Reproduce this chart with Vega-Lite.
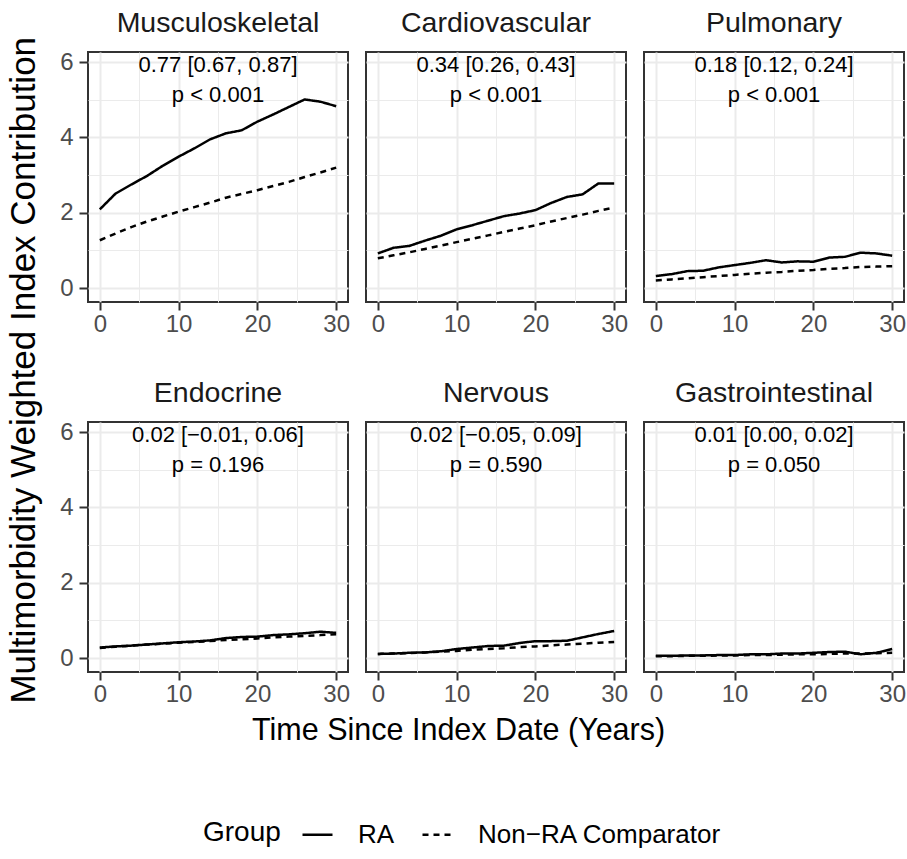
{
  "$schema": "https://vega.github.io/schema/vega-lite/v6.json",
  "background": "white",
  "padding": {"left": 6, "top": 7, "right": 2, "bottom": 4},
  "data": {"values": [
    {"panel":"Musculoskeletal","group":"RA","year":0,"value":2.09},{"panel":"Musculoskeletal","group":"RA","year":2,"value":2.51},{"panel":"Musculoskeletal","group":"RA","year":4,"value":2.75},{"panel":"Musculoskeletal","group":"RA","year":6,"value":2.98},{"panel":"Musculoskeletal","group":"RA","year":8,"value":3.25},{"panel":"Musculoskeletal","group":"RA","year":10,"value":3.49},{"panel":"Musculoskeletal","group":"RA","year":12,"value":3.71},{"panel":"Musculoskeletal","group":"RA","year":14,"value":3.95},{"panel":"Musculoskeletal","group":"RA","year":16,"value":4.11},{"panel":"Musculoskeletal","group":"RA","year":18,"value":4.19},{"panel":"Musculoskeletal","group":"RA","year":20,"value":4.42},{"panel":"Musculoskeletal","group":"RA","year":22,"value":4.61},{"panel":"Musculoskeletal","group":"RA","year":24,"value":4.81},{"panel":"Musculoskeletal","group":"RA","year":26,"value":5.01},{"panel":"Musculoskeletal","group":"RA","year":28,"value":4.95},{"panel":"Musculoskeletal","group":"RA","year":30,"value":4.83},
    {"panel":"Musculoskeletal","group":"Non−RA Comparator","year":0,"value":1.27},{"panel":"Musculoskeletal","group":"Non−RA Comparator","year":2,"value":1.45},{"panel":"Musculoskeletal","group":"Non−RA Comparator","year":4,"value":1.62},{"panel":"Musculoskeletal","group":"Non−RA Comparator","year":6,"value":1.77},{"panel":"Musculoskeletal","group":"Non−RA Comparator","year":8,"value":1.90},{"panel":"Musculoskeletal","group":"Non−RA Comparator","year":10,"value":2.03},{"panel":"Musculoskeletal","group":"Non−RA Comparator","year":12,"value":2.15},{"panel":"Musculoskeletal","group":"Non−RA Comparator","year":14,"value":2.27},{"panel":"Musculoskeletal","group":"Non−RA Comparator","year":16,"value":2.40},{"panel":"Musculoskeletal","group":"Non−RA Comparator","year":18,"value":2.50},{"panel":"Musculoskeletal","group":"Non−RA Comparator","year":20,"value":2.60},{"panel":"Musculoskeletal","group":"Non−RA Comparator","year":22,"value":2.71},{"panel":"Musculoskeletal","group":"Non−RA Comparator","year":24,"value":2.82},{"panel":"Musculoskeletal","group":"Non−RA Comparator","year":26,"value":2.95},{"panel":"Musculoskeletal","group":"Non−RA Comparator","year":28,"value":3.07},{"panel":"Musculoskeletal","group":"Non−RA Comparator","year":30,"value":3.20},
    {"panel":"Cardiovascular","group":"RA","year":0,"value":0.92},{"panel":"Cardiovascular","group":"RA","year":2,"value":1.07},{"panel":"Cardiovascular","group":"RA","year":4,"value":1.12},{"panel":"Cardiovascular","group":"RA","year":6,"value":1.26},{"panel":"Cardiovascular","group":"RA","year":8,"value":1.39},{"panel":"Cardiovascular","group":"RA","year":10,"value":1.56},{"panel":"Cardiovascular","group":"RA","year":12,"value":1.67},{"panel":"Cardiovascular","group":"RA","year":14,"value":1.79},{"panel":"Cardiovascular","group":"RA","year":16,"value":1.91},{"panel":"Cardiovascular","group":"RA","year":18,"value":1.98},{"panel":"Cardiovascular","group":"RA","year":20,"value":2.07},{"panel":"Cardiovascular","group":"RA","year":22,"value":2.26},{"panel":"Cardiovascular","group":"RA","year":24,"value":2.42},{"panel":"Cardiovascular","group":"RA","year":26,"value":2.49},{"panel":"Cardiovascular","group":"RA","year":28,"value":2.78},{"panel":"Cardiovascular","group":"RA","year":30,"value":2.78},
    {"panel":"Cardiovascular","group":"Non−RA Comparator","year":0,"value":0.79},{"panel":"Cardiovascular","group":"Non−RA Comparator","year":2,"value":0.87},{"panel":"Cardiovascular","group":"Non−RA Comparator","year":4,"value":0.95},{"panel":"Cardiovascular","group":"Non−RA Comparator","year":6,"value":1.04},{"panel":"Cardiovascular","group":"Non−RA Comparator","year":8,"value":1.13},{"panel":"Cardiovascular","group":"Non−RA Comparator","year":10,"value":1.22},{"panel":"Cardiovascular","group":"Non−RA Comparator","year":12,"value":1.31},{"panel":"Cardiovascular","group":"Non−RA Comparator","year":14,"value":1.40},{"panel":"Cardiovascular","group":"Non−RA Comparator","year":16,"value":1.49},{"panel":"Cardiovascular","group":"Non−RA Comparator","year":18,"value":1.58},{"panel":"Cardiovascular","group":"Non−RA Comparator","year":20,"value":1.67},{"panel":"Cardiovascular","group":"Non−RA Comparator","year":22,"value":1.77},{"panel":"Cardiovascular","group":"Non−RA Comparator","year":24,"value":1.86},{"panel":"Cardiovascular","group":"Non−RA Comparator","year":26,"value":1.95},{"panel":"Cardiovascular","group":"Non−RA Comparator","year":28,"value":2.05},{"panel":"Cardiovascular","group":"Non−RA Comparator","year":30,"value":2.14},
    {"panel":"Pulmonary","group":"RA","year":0,"value":0.32},{"panel":"Pulmonary","group":"RA","year":2,"value":0.37},{"panel":"Pulmonary","group":"RA","year":4,"value":0.45},{"panel":"Pulmonary","group":"RA","year":6,"value":0.46},{"panel":"Pulmonary","group":"RA","year":8,"value":0.55},{"panel":"Pulmonary","group":"RA","year":10,"value":0.61},{"panel":"Pulmonary","group":"RA","year":12,"value":0.67},{"panel":"Pulmonary","group":"RA","year":14,"value":0.74},{"panel":"Pulmonary","group":"RA","year":16,"value":0.68},{"panel":"Pulmonary","group":"RA","year":18,"value":0.71},{"panel":"Pulmonary","group":"RA","year":20,"value":0.70},{"panel":"Pulmonary","group":"RA","year":22,"value":0.81},{"panel":"Pulmonary","group":"RA","year":24,"value":0.83},{"panel":"Pulmonary","group":"RA","year":26,"value":0.94},{"panel":"Pulmonary","group":"RA","year":28,"value":0.92},{"panel":"Pulmonary","group":"RA","year":30,"value":0.86},
    {"panel":"Pulmonary","group":"Non−RA Comparator","year":0,"value":0.20},{"panel":"Pulmonary","group":"Non−RA Comparator","year":2,"value":0.23},{"panel":"Pulmonary","group":"Non−RA Comparator","year":4,"value":0.26},{"panel":"Pulmonary","group":"Non−RA Comparator","year":6,"value":0.29},{"panel":"Pulmonary","group":"Non−RA Comparator","year":8,"value":0.32},{"panel":"Pulmonary","group":"Non−RA Comparator","year":10,"value":0.35},{"panel":"Pulmonary","group":"Non−RA Comparator","year":12,"value":0.38},{"panel":"Pulmonary","group":"Non−RA Comparator","year":14,"value":0.41},{"panel":"Pulmonary","group":"Non−RA Comparator","year":16,"value":0.43},{"panel":"Pulmonary","group":"Non−RA Comparator","year":18,"value":0.46},{"panel":"Pulmonary","group":"Non−RA Comparator","year":20,"value":0.48},{"panel":"Pulmonary","group":"Non−RA Comparator","year":22,"value":0.51},{"panel":"Pulmonary","group":"Non−RA Comparator","year":24,"value":0.53},{"panel":"Pulmonary","group":"Non−RA Comparator","year":26,"value":0.56},{"panel":"Pulmonary","group":"Non−RA Comparator","year":28,"value":0.57},{"panel":"Pulmonary","group":"Non−RA Comparator","year":30,"value":0.58},
    {"panel":"Endocrine","group":"RA","year":0,"value":0.28},{"panel":"Endocrine","group":"RA","year":2,"value":0.31},{"panel":"Endocrine","group":"RA","year":4,"value":0.33},{"panel":"Endocrine","group":"RA","year":6,"value":0.36},{"panel":"Endocrine","group":"RA","year":8,"value":0.39},{"panel":"Endocrine","group":"RA","year":10,"value":0.42},{"panel":"Endocrine","group":"RA","year":12,"value":0.44},{"panel":"Endocrine","group":"RA","year":14,"value":0.47},{"panel":"Endocrine","group":"RA","year":16,"value":0.53},{"panel":"Endocrine","group":"RA","year":18,"value":0.56},{"panel":"Endocrine","group":"RA","year":20,"value":0.57},{"panel":"Endocrine","group":"RA","year":22,"value":0.61},{"panel":"Endocrine","group":"RA","year":24,"value":0.63},{"panel":"Endocrine","group":"RA","year":26,"value":0.66},{"panel":"Endocrine","group":"RA","year":28,"value":0.70},{"panel":"Endocrine","group":"RA","year":30,"value":0.67},
    {"panel":"Endocrine","group":"Non−RA Comparator","year":0,"value":0.27},{"panel":"Endocrine","group":"Non−RA Comparator","year":2,"value":0.30},{"panel":"Endocrine","group":"Non−RA Comparator","year":4,"value":0.33},{"panel":"Endocrine","group":"Non−RA Comparator","year":6,"value":0.36},{"panel":"Endocrine","group":"Non−RA Comparator","year":8,"value":0.38},{"panel":"Endocrine","group":"Non−RA Comparator","year":10,"value":0.41},{"panel":"Endocrine","group":"Non−RA Comparator","year":12,"value":0.43},{"panel":"Endocrine","group":"Non−RA Comparator","year":14,"value":0.45},{"panel":"Endocrine","group":"Non−RA Comparator","year":16,"value":0.48},{"panel":"Endocrine","group":"Non−RA Comparator","year":18,"value":0.50},{"panel":"Endocrine","group":"Non−RA Comparator","year":20,"value":0.52},{"panel":"Endocrine","group":"Non−RA Comparator","year":22,"value":0.55},{"panel":"Endocrine","group":"Non−RA Comparator","year":24,"value":0.57},{"panel":"Endocrine","group":"Non−RA Comparator","year":26,"value":0.59},{"panel":"Endocrine","group":"Non−RA Comparator","year":28,"value":0.61},{"panel":"Endocrine","group":"Non−RA Comparator","year":30,"value":0.63},
    {"panel":"Nervous","group":"RA","year":0,"value":0.11},{"panel":"Nervous","group":"RA","year":2,"value":0.12},{"panel":"Nervous","group":"RA","year":4,"value":0.14},{"panel":"Nervous","group":"RA","year":6,"value":0.15},{"panel":"Nervous","group":"RA","year":8,"value":0.18},{"panel":"Nervous","group":"RA","year":10,"value":0.24},{"panel":"Nervous","group":"RA","year":12,"value":0.28},{"panel":"Nervous","group":"RA","year":14,"value":0.32},{"panel":"Nervous","group":"RA","year":16,"value":0.33},{"panel":"Nervous","group":"RA","year":18,"value":0.40},{"panel":"Nervous","group":"RA","year":20,"value":0.45},{"panel":"Nervous","group":"RA","year":22,"value":0.45},{"panel":"Nervous","group":"RA","year":24,"value":0.46},{"panel":"Nervous","group":"RA","year":26,"value":0.55},{"panel":"Nervous","group":"RA","year":28,"value":0.64},{"panel":"Nervous","group":"RA","year":30,"value":0.72},
    {"panel":"Nervous","group":"Non−RA Comparator","year":0,"value":0.11},{"panel":"Nervous","group":"Non−RA Comparator","year":2,"value":0.12},{"panel":"Nervous","group":"Non−RA Comparator","year":4,"value":0.13},{"panel":"Nervous","group":"Non−RA Comparator","year":6,"value":0.15},{"panel":"Nervous","group":"Non−RA Comparator","year":8,"value":0.17},{"panel":"Nervous","group":"Non−RA Comparator","year":10,"value":0.19},{"panel":"Nervous","group":"Non−RA Comparator","year":12,"value":0.22},{"panel":"Nervous","group":"Non−RA Comparator","year":14,"value":0.24},{"panel":"Nervous","group":"Non−RA Comparator","year":16,"value":0.26},{"panel":"Nervous","group":"Non−RA Comparator","year":18,"value":0.29},{"panel":"Nervous","group":"Non−RA Comparator","year":20,"value":0.31},{"panel":"Nervous","group":"Non−RA Comparator","year":22,"value":0.34},{"panel":"Nervous","group":"Non−RA Comparator","year":24,"value":0.36},{"panel":"Nervous","group":"Non−RA Comparator","year":26,"value":0.38},{"panel":"Nervous","group":"Non−RA Comparator","year":28,"value":0.41},{"panel":"Nervous","group":"Non−RA Comparator","year":30,"value":0.43},
    {"panel":"Gastrointestinal","group":"RA","year":0,"value":0.06},{"panel":"Gastrointestinal","group":"RA","year":2,"value":0.06},{"panel":"Gastrointestinal","group":"RA","year":4,"value":0.07},{"panel":"Gastrointestinal","group":"RA","year":6,"value":0.07},{"panel":"Gastrointestinal","group":"RA","year":8,"value":0.08},{"panel":"Gastrointestinal","group":"RA","year":10,"value":0.08},{"panel":"Gastrointestinal","group":"RA","year":12,"value":0.10},{"panel":"Gastrointestinal","group":"RA","year":14,"value":0.10},{"panel":"Gastrointestinal","group":"RA","year":16,"value":0.12},{"panel":"Gastrointestinal","group":"RA","year":18,"value":0.12},{"panel":"Gastrointestinal","group":"RA","year":20,"value":0.14},{"panel":"Gastrointestinal","group":"RA","year":22,"value":0.16},{"panel":"Gastrointestinal","group":"RA","year":24,"value":0.17},{"panel":"Gastrointestinal","group":"RA","year":26,"value":0.10},{"panel":"Gastrointestinal","group":"RA","year":28,"value":0.14},{"panel":"Gastrointestinal","group":"RA","year":30,"value":0.24},
    {"panel":"Gastrointestinal","group":"Non−RA Comparator","year":0,"value":0.05},{"panel":"Gastrointestinal","group":"Non−RA Comparator","year":2,"value":0.05},{"panel":"Gastrointestinal","group":"Non−RA Comparator","year":4,"value":0.06},{"panel":"Gastrointestinal","group":"Non−RA Comparator","year":6,"value":0.06},{"panel":"Gastrointestinal","group":"Non−RA Comparator","year":8,"value":0.07},{"panel":"Gastrointestinal","group":"Non−RA Comparator","year":10,"value":0.07},{"panel":"Gastrointestinal","group":"Non−RA Comparator","year":12,"value":0.08},{"panel":"Gastrointestinal","group":"Non−RA Comparator","year":14,"value":0.08},{"panel":"Gastrointestinal","group":"Non−RA Comparator","year":16,"value":0.09},{"panel":"Gastrointestinal","group":"Non−RA Comparator","year":18,"value":0.10},{"panel":"Gastrointestinal","group":"Non−RA Comparator","year":20,"value":0.10},{"panel":"Gastrointestinal","group":"Non−RA Comparator","year":22,"value":0.11},{"panel":"Gastrointestinal","group":"Non−RA Comparator","year":24,"value":0.12},{"panel":"Gastrointestinal","group":"Non−RA Comparator","year":26,"value":0.12},{"panel":"Gastrointestinal","group":"Non−RA Comparator","year":28,"value":0.13},{"panel":"Gastrointestinal","group":"Non−RA Comparator","year":30,"value":0.14},
    {"panel":"Musculoskeletal","estimate":"0.77 [0.67, 0.87]","pvalue":"p < 0.001"},
    {"panel":"Cardiovascular","estimate":"0.34 [0.26, 0.43]","pvalue":"p < 0.001"},
    {"panel":"Pulmonary","estimate":"0.18 [0.12, 0.24]","pvalue":"p < 0.001"},
    {"panel":"Endocrine","estimate":"0.02 [−0.01, 0.06]","pvalue":"p = 0.196"},
    {"panel":"Nervous","estimate":"0.02 [−0.05, 0.09]","pvalue":"p = 0.590"},
    {"panel":"Gastrointestinal","estimate":"0.01 [0.00, 0.02]","pvalue":"p = 0.050"}
  ]},
  "vconcat": [
    {
      "title": {"text": "Time Since Index Date (Years)", "orient": "bottom", "anchor": "middle", "fontSize": 30.5, "fontWeight": "normal", "color": "#000000", "offset": 9, "dx": 2},
      "vconcat": [
        {
          "title": {"text": "Multimorbidity Weighted Index Contribution", "orient": "left", "anchor": "middle", "fontSize": 35, "fontWeight": "normal", "color": "#000000", "offset": 18, "dx": -13},
          "facet": {"field": "panel", "type": "nominal", "sort": ["Musculoskeletal","Cardiovascular","Pulmonary","Endocrine","Nervous","Gastrointestinal"], "header": {"title": null, "labelFontSize": 28.5, "labelColor": "#1A1A1A", "labelPadding": 15, "labelFont": "Liberation Sans"}},
          "columns": 3,
          "spacing": {"row": 40, "column": 14},
          "resolve": {"scale": {"x": "independent"}},
          "spec": {
            "width": 260,
            "height": 250,
            "layer": [
              {
                "transform": [{"filter": "isValid(datum.value)"}],
                "mark": {"type": "line", "color": "#000000", "strokeWidth": 2.5},
                "encoding": {
                  "x": {"field": "year", "type": "quantitative", "scale": {"domain": [-1.5, 31.5], "nice": false, "zero": false}, "axis": {"title": null, "values": [0,5,10,15,20,25,30], "labelExpr": "datum.value % 10 == 0 ? datum.label : ''", "tickOpacity": {"condition": {"test": "datum.value % 10 == 0", "value": 1}, "value": 0}, "gridWidth": {"condition": {"test": "datum.value % 10 == 0", "value": 2}, "value": 1}}},
                  "y": {"field": "value", "type": "quantitative", "scale": {"domain": [-0.37, 6.27], "nice": false, "zero": false}, "axis": {"title": null, "values": [0,1,2,3,4,5,6], "labelExpr": "datum.value % 2 == 0 ? datum.label : ''", "tickOpacity": {"condition": {"test": "datum.value % 2 == 0", "value": 1}, "value": 0}, "gridWidth": {"condition": {"test": "datum.value % 2 == 0", "value": 2}, "value": 1}}},
                  "strokeDash": {"field": "group", "type": "nominal", "scale": {"domain": ["RA", "Non−RA Comparator"], "range": [[1, 0], [6, 5]]}, "legend": {"title": "Group", "orient": "none", "legendX": 115, "legendY": 766, "direction": "horizontal", "titleOrient": "left", "titleFontSize": 28, "titleFontWeight": "normal", "titleColor": "#000000", "titleBaseline": "middle", "labelFontSize": 26, "labelColor": "#000000", "labelLimit": 400, "symbolType": "stroke", "symbolSize": 900, "symbolStrokeWidth": 2.5, "symbolStrokeColor": "#000000", "columnPadding": 22, "labelOffset": 24, "titlePadding": 20}}
                }
              },
              {
                "transform": [{"filter": "isValid(datum.estimate)"}],
                "mark": {"type": "text", "fontSize": 22, "color": "#000000", "align": "center", "baseline": "middle"},
                "encoding": {"x": {"datum": 15}, "y": {"datum": 5.92}, "text": {"field": "estimate"}}
              },
              {
                "transform": [{"filter": "isValid(datum.pvalue)"}],
                "mark": {"type": "text", "fontSize": 22, "color": "#000000", "align": "center", "baseline": "middle"},
                "encoding": {"x": {"datum": 15}, "y": {"datum": 5.12}, "text": {"field": "pvalue"}}
              }
            ]
          }
        }
      ]
    }
  ],
  "config": {
    "font": "Liberation Sans",
    "view": {"stroke": "#333333", "strokeWidth": 2},
    "axis": {"domain": false, "gridColor": "#EBEBEB", "tickColor": "#333333", "tickWidth": 2, "tickSize": 8, "labelFontSize": 24, "labelColor": "#4D4D4D", "labelFont": "Liberation Sans"},
    "axisX": {"labelFlush": false, "labelOverlap": false, "labelPadding": 2},
    "axisY": {"labelOverlap": false, "labelPadding": 6},
    "legend": {"labelFont": "Liberation Sans", "titleFont": "Liberation Sans"}
  }
}
